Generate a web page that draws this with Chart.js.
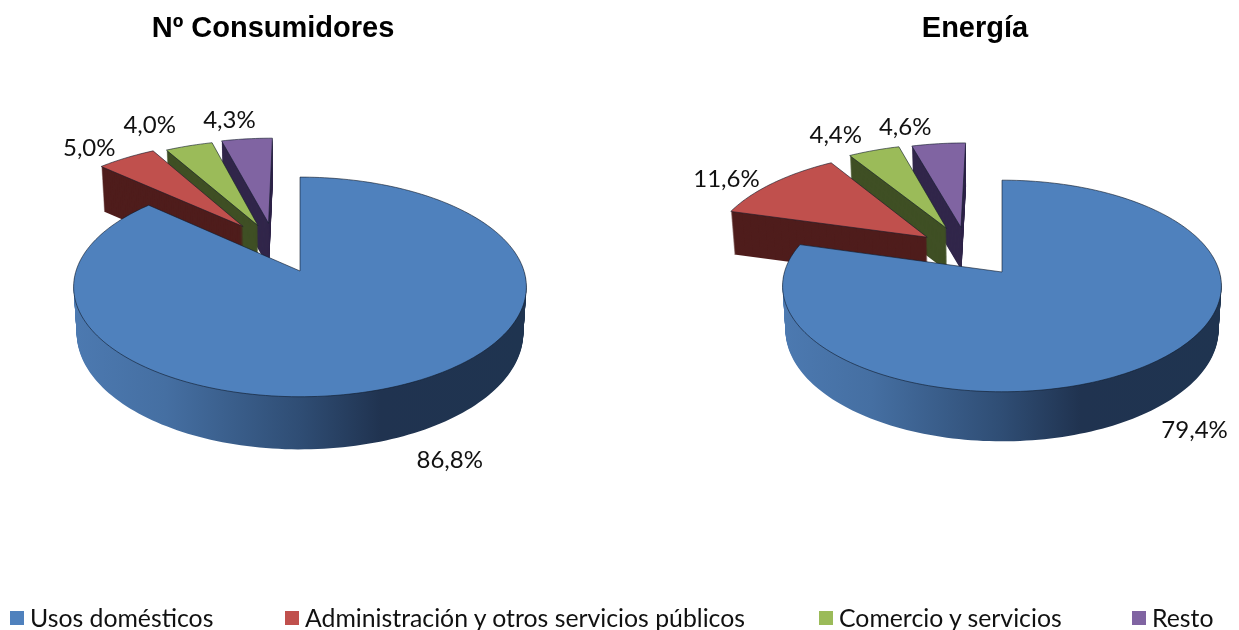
<!DOCTYPE html>
<html lang="es">
<head>
<meta charset="utf-8">
<title>Consumidores y energía</title>
<script src="https://cdn.jsdelivr.net/npm/chart.js@4"></script>
<style>
    html, body { margin: 0; padding: 0; background: #fff; }
    #lienzo { position: relative; width: 1239px; height: 630px; overflow: hidden; }
    canvas { position: absolute; top: 0; }
    .titulo { position: absolute; top: 11px; font: bold 29px "Liberation Sans", sans-serif; color: #000; transform: translateX(-50%); white-space: nowrap; }
    .leyenda { position: absolute; top: 603px; font: 24.8px Lato, sans-serif; color: #111; white-space: nowrap; }
    .leyenda i { position: absolute; left: -20px; top: 8px; width: 14px; height: 14px; }
</style>
</head>
<body>
<div id="lienzo">
    <canvas id="tartaConsumidores" width="620" height="630" style="left:0"></canvas>
    <canvas id="tartaEnergia" width="619" height="630" style="left:620px"></canvas>
</div>
<script>
const categorias = ['Usos domésticos', 'Administración y otros servicios públicos', 'Comercio y servicios', 'Resto'];
const consumidores = [86.8, 5.0, 4.0, 4.3];
const energia = [79.4, 11.6, 4.4, 4.6];
const titulos = ['Nº Consumidores', 'Energía'];

const coloresTapa = ['#4f81bd', '#c0504d', '#9bbb59', '#8064a2'];
const coloresLado = ['#2f4d74', '#4f1d1c', '#3f4f24', '#31264a'];
const xLeyenda = [30, 305, 839, 1152];
const xTitulos = [273, 975];

// desplazamiento de cada porcion respecto al centro, en radios (x, y)
const separacionConsumidores = [[0, 0], [-0.27, 0.44], [-0.2, 0.45], [-0.15, 0.475]];
const separacionEnergia = [[0, 0], [-0.36, 0.35], [-0.27, 0.445], [-0.2, 0.455]];
// ajuste de las etiquetas respecto al borde de la porcion, en px
const ajusteConsumidores = [[45, 76], [-40, -11], [-41, -23], [-18, -21]];
const ajusteEnergia = [[46, 66], [-51, -5], [-40, -17], [-34, -19]];

// la tarta se dibuja con los angulos y el radio que calcula Chart.js, inclinada y con grosor
const tarta3d = {
    id: 'tarta3d',
    beforeDatasetsDraw(chart) {
        const o = chart.options.plugins.tarta3d;
        const ctx = chart.ctx;
        const arcos = chart.getDatasetMeta(0).data;
        const valores = chart.data.datasets[0].data;

        const proyectar = (arco, u, v, z) => {
            const d = 1 + o.perspectiva * v;
            const grosor = z / (1 + o.perspectiva * Math.min(v, 0));
            return {
                x: arco.x + arco.outerRadius * u / d * (1 - 0.0003 * z),
                y: arco.y - arco.outerRadius * o.inclinacion * v / d + grosor
            };
        };

        const contorno = (arco, i, z) => {
            const [su, sv] = o.separacion[i];
            // las porciones separadas salen algo mayores por estar mas lejos
            const r = i === 0 ? 1 : 1.03;
            const pasos = Math.max(12, Math.ceil((arco.endAngle - arco.startAngle) * 40));
            ctx.beginPath();
            let p = proyectar(arco, su, sv, z);
            ctx.moveTo(p.x, p.y);
            for (let n = 0; n <= pasos; n++) {
                const a = arco.startAngle + (arco.endAngle - arco.startAngle) * n / pasos;
                p = proyectar(arco, su + r * Math.cos(a), sv - r * Math.sin(a), z);
                ctx.lineTo(p.x, p.y);
            }
            ctx.closePath();
        };

        // atras primero, el azul queda encima de las demas
        for (let i = arcos.length - 1; i >= 0; i--) {
            const arco = arcos[i];
            let lado = coloresLado[i];
            if (i === 0) {
                lado = ctx.createLinearGradient(arco.x - arco.outerRadius, 0, arco.x + arco.outerRadius, 0);
                lado.addColorStop(0, '#4c79b0');
                lado.addColorStop(0.2, '#456fa2');
                lado.addColorStop(0.5, '#2f4d74');
                lado.addColorStop(0.68, '#203350');
                lado.addColorStop(1, '#1f3450');
            }
            ctx.fillStyle = lado;
            for (let z = o.grosor; z >= 1; z--) {
                contorno(arco, i, z);
                ctx.fill();
            }
            contorno(arco, i, 0);
            ctx.fillStyle = coloresTapa[i];
            ctx.fill();
            ctx.strokeStyle = 'rgba(15,25,40,0.75)';
            ctx.lineWidth = 0.8;
            ctx.stroke();
        }

        ctx.fillStyle = '#111';
        ctx.font = '24px Lato, sans-serif';
        ctx.textAlign = 'center';
        ctx.textBaseline = 'middle';
        arcos.forEach((arco, i) => {
            const medio = (arco.startAngle + arco.endAngle) / 2;
            const [su, sv] = o.separacion[i];
            const p = proyectar(arco, su + Math.cos(medio), sv - Math.sin(medio), 0);
            const texto = valores[i].toFixed(1).replace('.', ',') + '%';
            ctx.fillText(texto, p.x + o.ajuste[i][0], p.y + o.ajuste[i][1]);
        });
        return false;
    }
};

const crearTarta = (id, valores, padding, config) => new Chart(document.querySelector(id), {
    type: 'pie',
    data: {
        labels: categorias,
        datasets: [{ data: valores, backgroundColor: coloresTapa, borderWidth: 0 }]
    },
    options: {
        responsive: false,
        animation: false,
        radius: config.radio,
        layout: { padding },
        plugins: {
            legend: { display: false },
            tooltip: { enabled: false },
            tarta3d: config
        }
    },
    plugins: [tarta3d]
});

crearTarta('#tartaConsumidores', consumidores, { right: 20, bottom: 88 }, {
    radio: 224, perspectiva: 0.145, inclinacion: 0.48, grosor: 45,
    separacion: separacionConsumidores, ajuste: ajusteConsumidores
});
crearTarta('#tartaEnergia', energia, { left: 145, bottom: 86 }, {
    radio: 217.5, perspectiva: 0.132, inclinacion: 0.478, grosor: 43,
    separacion: separacionEnergia, ajuste: ajusteEnergia
});

const lienzo = document.querySelector('#lienzo');
titulos.forEach((t, i) => {
    const div = document.createElement('div');
    div.className = 'titulo';
    div.style.left = xTitulos[i] + 'px';
    div.textContent = t;
    lienzo.appendChild(div);
});
categorias.forEach((c, i) => {
    const div = document.createElement('div');
    div.className = 'leyenda';
    div.style.left = xLeyenda[i] + 'px';
    div.innerHTML = `<i style="background:${coloresTapa[i]}"></i>${c}`;
    lienzo.appendChild(div);
});
</script>
</body>
</html>
